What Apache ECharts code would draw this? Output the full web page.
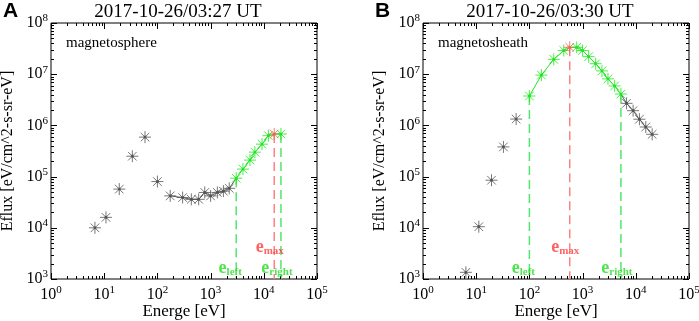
<!DOCTYPE html>
<html>
<head>
<meta charset="utf-8">
<script src="https://cdn.jsdelivr.net/npm/echarts@6/dist/echarts.min.js"></script>
<style>
  html, body { margin: 0; padding: 0; background: #fff; }
  #chart { width: 699px; height: 321px; }
</style>
</head>
<body>
<div id="chart"></div>
<script>
// panel A: magnetosphere
const energyA = [6.7, 10.8, 19.2, 33.8, 58.5, 100, 174, 298, 434, 597, 776, 1000, 1340, 1740, 2240, 3030, 4060, 5500, 6800, 9250, 12200, 15700, 21000]
const fluxA = [1.0e4, 1.6e4, 5.7e4, 2.5e5, 5.9e5, 8.0e4, 4.2e4, 3.9e4, 3.6e4, 3.6e4, 4.9e4, 4.2e4, 4.9e4, 5.2e4, 5.9e4, 9.3e4, 1.4e5, 2.1e5, 3.0e5, 4.3e5, 6.3e5, 6.8e5, 6.8e5]
const idxA = { lineStart: 6, left: 15, max: 21, right: 22 }

// panel B: magnetosheath
const energyB = [6.4, 11.2, 19.4, 32.5, 56.3, 100, 168, 287, 442, 573, 775, 1000, 1300, 1760, 2310, 3000, 4000, 5250, 6700, 8900, 11700, 15400, 20300]
const fluxB = [1.35e3, 1.05e4, 8.5e4, 3.8e5, 1.33e6, 3.75e6, 9.6e6, 1.95e7, 2.9e7, 3.35e7, 3.35e7, 2.9e7, 2.2e7, 1.6e7, 1.16e7, 8.1e6, 5.9e6, 4.1e6, 2.7e6, 1.94e6, 1.32e6, 9.3e5, 6.7e5]
const idxB = { left: 5, max: 9, right: 17, lineEnd: 22 }

const titles = ['2017-10-26/03:27 UT', '2017-10-26/03:30 UT']
const regions = ['magnetosphere', 'magnetosheath']
const panelLetters = ['A', 'B']
const xRange = [1, 1e5]
const yRange = [1e3, 1e8]
const labelY = { edge: 1.6e3, max: 4.2e3 }

const serif = 'Liberation Serif'
const grey = '#555'
const green = '#1ee81e'
const red = '#ff5c5c'

const chart = echarts.init(document.getElementById('chart'))

// asterisk marker with a small dot in the middle
const star = 'path://M0,-6L0,6M-6,0L6,0M-4.3,-4.3L4.3,4.3M-4.3,4.3L4.3,-4.3M-0.9,-0.9L0.9,-0.9L0.9,0.9L-0.9,0.9Z'

function pointStyle (i, idx) {
    let stroke = grey
    let dot = '#111'
    if (i === idx.max) {
        stroke = red; dot = '#d22'
    } else if (i >= idx.left && i <= idx.right) {
        stroke = green; dot = '#080'
    }
    return { color: dot, borderColor: stroke, borderWidth: 1 }
}

function powLabel (v) {
    return '{b|10}{s|' + Math.round(Math.log10(v)) + '}'
}

// tick values for minor + major ticks on a log axis
function logTicks (lo, hi) {
    const out = []
    for (let n = Math.round(Math.log10(lo)); n < Math.round(Math.log10(hi)); n++) {
        for (let k = 1; k <= 9; k++) out.push([k * Math.pow(10, n), k === 1 ? 1 : 0])
    }
    out.push([hi, 1])
    return out
}

function tickSeries (g, dir) {
    const vals = logTicks(dir === 'x' ? xRange[0] : yRange[0], dir === 'x' ? xRange[1] : yRange[1])
    return {
        type: 'custom',
        xAxisIndex: g,
        yAxisIndex: g,
        silent: true,
        z: 5,
        clip: false,
        data: vals.map(t => dir === 'x' ? [t[0], yRange[0], t[1]] : [xRange[0], t[0], t[1]]),
        encode: { x: 0, y: 1 },
        renderItem (params, api) {
            const cs = params.coordSys
            const p = api.coord([api.value(0), api.value(1)])
            const len = api.value(2) ? 6 : 3
            const st = { stroke: '#000', lineWidth: 1 }
            if (dir === 'x') {
                const x = Math.round(p[0]) + 0.5
                return {
                    type: 'group',
                    children: [
                        { type: 'line', shape: { x1: x, y1: cs.y + cs.height, x2: x, y2: cs.y + cs.height - len }, style: st },
                        { type: 'line', shape: { x1: x, y1: cs.y, x2: x, y2: cs.y + len }, style: st }
                    ]
                }
            }
            const y = Math.round(p[1]) + 0.5
            return {
                type: 'group',
                children: [
                    { type: 'line', shape: { x1: cs.x, y1: y, x2: cs.x + len, y2: y }, style: st },
                    { type: 'line', shape: { x1: cs.x + cs.width, y1: y, x2: cs.x + cs.width - len, y2: y }, style: st }
                ]
            }
        }
    }
}

function dashSeries (g, e, f, color) {
    return {
        type: 'line',
        xAxisIndex: g,
        yAxisIndex: g,
        symbol: 'none',
        silent: true,
        z: 2,
        lineStyle: { color: color, width: 1.5, type: [9, 5] },
        data: [[e, f], [e, yRange[0]]]
    }
}

function edgeLabel (g, e, y, name, color, dx) {
    return {
        type: 'scatter',
        xAxisIndex: g,
        yAxisIndex: g,
        symbolSize: 0,
        silent: true,
        z: 6,
        data: [[e, y]],
        label: {
            show: true,
            position: 'inside',
            offset: [dx, 0],
            formatter: '{e|e}{u|' + name + '}',
            rich: {
                e: { fontFamily: serif, fontSize: 18, fontWeight: 'bold', color: color },
                u: { fontFamily: serif, fontSize: 11, fontWeight: 'bold', color: color, padding: [8, 0, 0, 0] }
            }
        }
    }
}

function panelSeries (g, energy, flux, idx) {
    const pts = energy.map((e, i) => [e, flux[i]])
    const list = []
    const blackFrom = g === 0 ? idx.lineStart : idx.right
    const blackTo = g === 0 ? idx.left : idx.lineEnd
    list.push({
        type: 'line', xAxisIndex: g, yAxisIndex: g, symbol: 'none', silent: true, z: 3,
        lineStyle: { color: '#333', width: 0.8 },
        data: pts.slice(blackFrom, blackTo + 1)
    })
    list.push({
        type: 'line', xAxisIndex: g, yAxisIndex: g, symbol: 'none', silent: true, z: 3,
        lineStyle: { color: green, width: 1 },
        data: pts.slice(idx.left, idx.right + 1)
    })
    list.push(dashSeries(g, energy[idx.left], flux[idx.left], '#4fe86a'))
    list.push(dashSeries(g, energy[idx.max], flux[idx.max], '#ff8080'))
    list.push(dashSeries(g, energy[idx.right], flux[idx.right], '#4fe86a'))
    list.push({
        type: 'scatter', xAxisIndex: g, yAxisIndex: g, silent: true, z: 4,
        symbol: star, symbolSize: 12,
        data: pts.map((p, i) => ({ value: p, itemStyle: pointStyle(i, idx) }))
    })
    list.push(edgeLabel(g, energy[idx.left], labelY.edge, 'left', '#22dd22', -6))
    list.push(edgeLabel(g, energy[idx.max], labelY.max, 'max', '#ff3b3b', -4.5))
    list.push(edgeLabel(g, energy[idx.right], labelY.edge, 'right', '#22dd22', -4))
    list.push(tickSeries(g, 'x'))
    list.push(tickSeries(g, 'y'))
    return list
}

const tickRich = {
    b: { fontFamily: serif, fontSize: 16, color: '#000' },
    s: { fontFamily: serif, fontSize: 11, color: '#000', padding: [0, 0, 9, 0] }
}

const grids = [
    { left: 51, top: 23, width: 266, height: 256 },
    { left: 423, top: 23, width: 266, height: 256 }
]

function xAxis (g) {
    return {
        type: 'log', logBase: 10, gridIndex: g, min: xRange[0], max: xRange[1],
        name: 'Energe [eV]', nameLocation: 'middle', nameGap: 24, nameMoveOverlap: false,
        nameTextStyle: { fontFamily: serif, fontSize: 17, color: '#000' },
        axisLine: { show: false },
        axisTick: { show: false },
        splitLine: { show: false },
        axisLabel: { margin: 6, formatter: powLabel, rich: tickRich }
    }
}

function yAxis (g) {
    return {
        type: 'log', logBase: 10, gridIndex: g, min: yRange[0], max: yRange[1],
        name: 'Eflux [eV/cm^2-s-sr-eV]', nameLocation: 'middle', nameGap: 35, nameMoveOverlap: false,
        nameTextStyle: { fontFamily: serif, fontSize: 16, color: '#000' },
        axisLine: { show: false },
        axisTick: { show: false },
        splitLine: { show: false },
        axisLabel: { margin: 3, formatter: powLabel, rich: tickRich }
    }
}

const graphics = []
;[0, 1].forEach(g => {
    const gx = grids[g].left
    graphics.push({
        type: 'text', left: gx - 48, top: 1,
        style: { text: panelLetters[g], font: 'bold 21px "Liberation Sans"', fill: '#000' }
    })
    graphics.push({
        type: 'text', x: gx + 127, y: 12,
        style: { text: titles[g], font: '19px "Liberation Serif"', fill: '#000', align: 'center', verticalAlign: 'middle' }
    })
    graphics.push({
        type: 'text', x: gx + 15, y: 43,
        style: { text: regions[g], font: '15px "Liberation Serif"', fill: '#000', verticalAlign: 'middle' }
    })
})

chart.setOption({
    backgroundColor: '#fff',
    animation: false,
    grid: grids.map(gr => Object.assign({
        show: true, borderColor: '#000', borderWidth: 1, backgroundColor: 'transparent',
        containLabel: false, outerBoundsMode: 'none'
    }, gr)),
    xAxis: [xAxis(0), xAxis(1)],
    yAxis: [yAxis(0), yAxis(1)],
    graphic: graphics,
    series: panelSeries(0, energyA, fluxA, idxA).concat(panelSeries(1, energyB, fluxB, idxB))
})
</script>
</body>
</html>
